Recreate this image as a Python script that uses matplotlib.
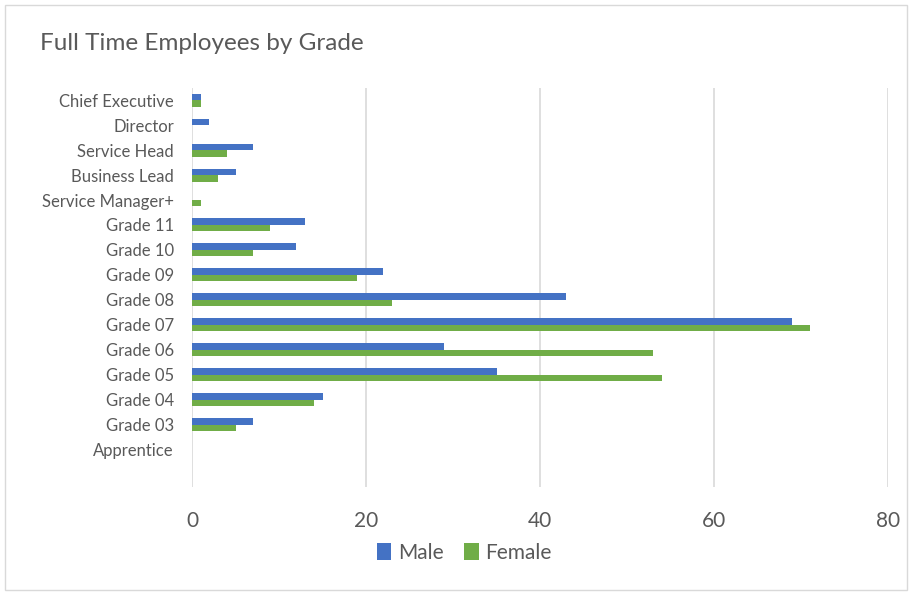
import matplotlib.pyplot as plt
from matplotlib.patches import Rectangle
import numpy as np

plt.rcParams['font.family'] = ['Lato', 'DejaVu Sans']

categories = ['Chief Executive', 'Director', 'Service Head', 'Business Lead',
              'Service Manager+', 'Grade 11', 'Grade 10', 'Grade 09', 'Grade 08',
              'Grade 07', 'Grade 06', 'Grade 05', 'Grade 04', 'Grade 03', 'Apprentice']
male = [1, 2, 7, 5, 0, 13, 12, 22, 43, 69, 29, 35, 15, 7, 0]
female = [1, 0, 4, 3, 1, 9, 7, 19, 23, 71, 53, 54, 14, 5, 0]
xticks = [0, 20, 40, 60, 80]

text_col = '#595959'
blue = '#4472C4'
green = '#70AD47'

fig = plt.figure(figsize=(9.1, 5.92), dpi=100)
fig.patches.append(Rectangle((0.006, 0.004), 0.991, 0.988, transform=fig.transFigure,
                             fill=False, edgecolor='#D9D9D9', linewidth=1))
ax = fig.add_axes([0.211, 0.177, 0.765, 0.675])

y = np.arange(len(categories))
h = 0.26
ax.barh(y - h / 2, male, height=h, color=blue, label='Male')
ax.barh(y + h / 2, female, height=h, color=green, label='Female')

ax.set_ylim(len(categories) + 0.5, -0.5)
ax.set_xlim(0, 80)
ax.set_yticks(y)
ax.set_yticklabels(categories, fontsize=12, color=text_col)
ax.set_xticks(xticks)
ax.set_xticklabels([str(t) for t in xticks], fontsize=15, color=text_col)
ax.tick_params(axis='both', length=0)
ax.tick_params(axis='x', pad=17)
ax.tick_params(axis='y', pad=13)
ax.grid(axis='x', color='#D9D9D9', linewidth=1.2)
ax.set_axisbelow(True)
for s in ax.spines.values():
    s.set_visible(False)

fig.text(0.044, 0.926, 'Full Time Employees by Grade', fontsize=17.5, color=text_col,
         va='center', ha='left')

fig.legend(loc='center', bbox_to_anchor=(0.51, 0.066), ncol=2, frameon=False,
           fontsize=15, labelcolor=text_col, handlelength=0.7, handleheight=0.9,
           handletextpad=0.3, columnspacing=1.0)

fig.savefig('out.png', dpi=100)
